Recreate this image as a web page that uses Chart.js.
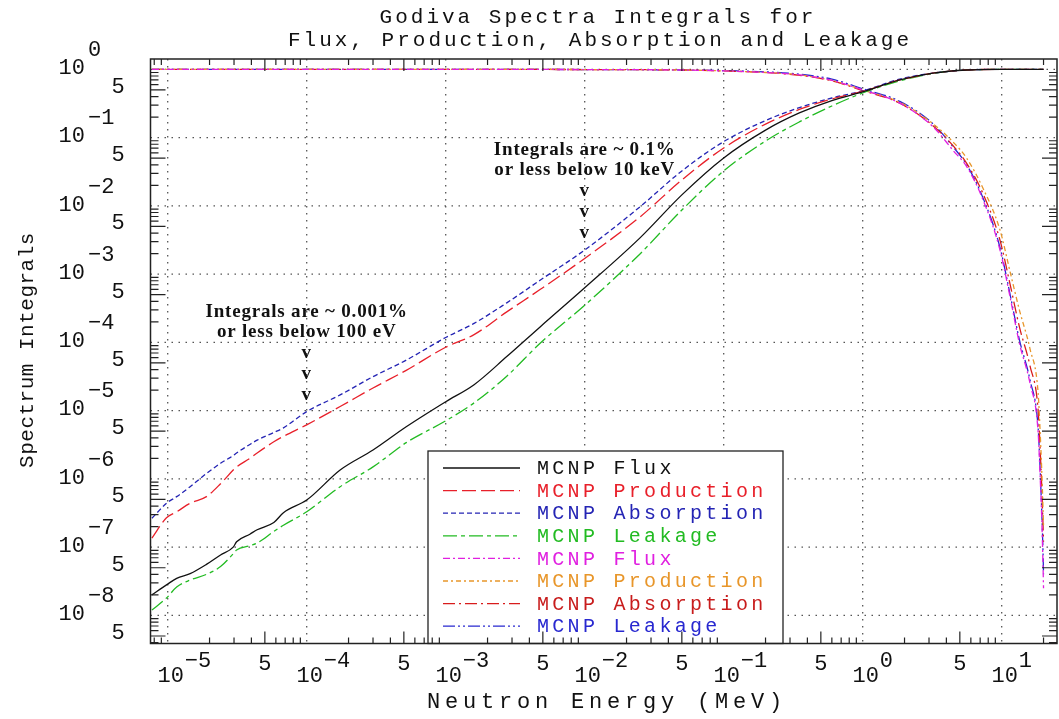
<!DOCTYPE html>
<html>
<head>
<meta charset="utf-8">
<script src="https://cdn.jsdelivr.net/npm/chart.js@4.4.0/dist/chart.umd.min.js"></script>
<style>
  html, body { margin: 0; padding: 0; background: #fff; }
  #wrap { width: 1059px; height: 719px; position: relative; }
</style>
</head>
<body>
<div id="wrap"><canvas id="mychart"></canvas></div>
<script>
// energies (MeV) for the "integral below E" curves
var lowE = [7.7e-6, 9.8e-6, 1.16e-5, 1.45e-5, 1.9e-5, 2.4e-5, 2.96e-5, 3.13e-5, 3.9e-5, 4.4e-5, 5.8e-5, 6.8e-5,
  1e-4, 1.74e-4, 3e-4, 5.2e-4, 1e-3, 1.6e-3, 2.75e-3, 4.8e-3, 1e-2, 2.5e-2, 5e-2,
  0.1, 0.2, 0.35, 0.6, 1, 1.85, 3.2, 5.6, 10, 20];
var fluxBelow = [2.0e-8, 2.8e-8, 3.5e-8, 4.1e-8, 5.6e-8, 7.7e-8, 1.0e-7, 1.2e-7, 1.55e-7, 1.8e-7, 2.3e-7, 3.2e-7,
  4.9e-7, 1.35e-6, 2.65e-6, 5.8e-6, 1.35e-5, 2.4e-5, 6.2e-5, 1.7e-4, 6.3e-4, 3.4e-3, 0.0145,
  0.0504, 0.129, 0.23, 0.35, 0.467, 0.70, 0.88, 0.98, 1, 1];
var prodBelow = [1.36e-7, 2.7e-7, 3.3e-7, 4.4e-7, 5.5e-7, 8.5e-7, 1.35e-6, 1.5e-6, 2.0e-6, 2.4e-6, 3.5e-6, 4.2e-6,
  6.2e-6, 1.15e-5, 2.15e-5, 3.9e-5, 8.5e-5, 1.3e-4, 2.8e-4, 6.0e-4, 1.7e-3, 6.9e-3, 0.024,
  0.0706, 0.158, 0.259, 0.368, 0.475, 0.70, 0.88, 0.98, 1, 1];
var absBelow = [2.65e-7, 4.4e-7, 5.5e-7, 7.7e-7, 1.2e-6, 1.7e-6, 2.2e-6, 2.4e-6, 3.2e-6, 3.7e-6, 4.8e-6, 5.6e-6,
  9.7e-6, 1.7e-5, 3.15e-5, 5.5e-5, 1.18e-4, 1.9e-4, 3.8e-4, 8.2e-4, 2.26e-3, 9.7e-3, 0.0325,
  0.0875, 0.178, 0.275, 0.381, 0.483, 0.72, 0.88, 0.98, 1, 1];
var leakBelow = [1.2e-8, 1.8e-8, 2.6e-8, 3.3e-8, 4.0e-8, 5.2e-8, 8.0e-8, 9.1e-8, 1.05e-7, 1.15e-7, 1.7e-7, 2.1e-7,
  3.3e-7, 7.7e-7, 1.5e-6, 3.4e-6, 7.1e-6, 1.3e-5, 3.2e-5, 9.8e-5, 3.5e-4, 1.98e-3, 8.7e-3,
  0.0325, 0.0893, 0.17, 0.291, 0.451, 0.68, 0.87, 0.98, 1, 1];

// energies (MeV) for the "integral above E" curves
var highE = [7.7e-6, 1e-3, 0.01, 0.05, 0.1, 0.2, 0.35, 0.6, 1.0, 1.85, 3.2, 4.5, 5.6, 7.35, 9.7, 11.6, 13.4, 16, 18.3, 18.9, 19.4, 19.85, 20];
var fluxAbove = [1, 1, 0.995, 0.98, 0.95, 0.9, 0.83, 0.69, 0.5, 0.32, 0.145, 0.064, 0.0376, 0.0122, 0.0023, 4.2e-4, 9.8e-5, 2.5e-5, 4.7e-6, 1.1e-6, 2.8e-7, 5e-8, 2.5e-8];
var prodAbove = [1, 1, 0.995, 0.98, 0.95, 0.9, 0.83, 0.69, 0.5, 0.33, 0.16, 0.085, 0.05, 0.018, 0.0045, 1.0e-3, 3.0e-4, 8e-5, 1.8e-5, 5e-6, 1.4e-6, 3.5e-7, 2e-7];
var absAbove = [1, 1, 0.995, 0.98, 0.95, 0.9, 0.82, 0.68, 0.49, 0.32, 0.15, 0.075, 0.042, 0.015, 0.0032, 6.5e-4, 1.7e-4, 4.5e-5, 1e-5, 2.8e-6, 8e-7, 2e-7, 1.2e-7];
var leakAbove = [1, 1, 0.995, 0.98, 0.96, 0.92, 0.85, 0.72, 0.52, 0.34, 0.16, 0.072, 0.04, 0.013, 0.0025, 4.6e-4, 1.1e-4, 2.8e-5, 5.5e-6, 1.4e-6, 3.5e-7, 8e-8, 4e-8];

var seriesNames = ['MCNP Flux', 'MCNP Production', 'MCNP Absorption', 'MCNP Leakage',
  'MCNP Flux', 'MCNP Production', 'MCNP Absorption', 'MCNP Leakage'];

// tick labels: decades get 10^n, the "5" labels sit at 5*10^n
var xDecades = [-5, -4, -3, -2, -1, 0, 1];
var xFives = [-5, -4, -3, -2, -1, 0];
var yDecades = [0, -1, -2, -3, -4, -5, -6, -7, -8];
var yFives = [-1, -2, -3, -4, -5, -6, -7, -8, -9];

var titleLines = ['Godiva Spectra Integrals for', 'Flux, Production, Absorption and Leakage'];
var notes = [
  { e: 1e-4, lines: ['Integrals are ~ 0.001%', 'or less below 100 eV'] },
  { e: 1e-2, lines: ['Integrals are ~ 0.1%', 'or less below 10 keV'] }
];

function pts(xs, ys) {
  return xs.map(function (x, i) { return { x: x, y: ys[i] }; });
}

var styles = [
  { c: '#111111', t: '#111111', d: [] },
  { c: '#e8202a', t: '#e8202a', d: [14, 5] },
  { c: '#2424b4', t: '#2424b4', d: [5, 3] },
  { c: '#22bb22', t: '#22bb22', d: [14, 4, 4, 4] },
  { c: '#e020e0', t: '#e020e0', d: [7, 3, 2, 3] },
  { c: '#e8962a', t: '#e8962a', d: [5, 3, 2, 3] },
  { c: '#d81c1c', t: '#c81c1c', d: [12, 4, 2, 4] },
  { c: '#2828d0', t: '#2828d0', d: [12, 3, 2, 3, 2, 3] }
];
var allValues = [fluxBelow, prodBelow, absBelow, leakBelow, fluxAbove, prodAbove, absAbove, leakAbove];

var datasets = allValues.map(function (vals, i) {
  return {
    label: seriesNames[i],
    data: pts(i < 4 ? lowE : highE, vals),
    borderColor: styles[i].c,
    borderDash: styles[i].d,
    borderWidth: 1.3,
    pointRadius: 0,
    fill: false,
    cubicInterpolationMode: 'monotone',
    textColor: styles[i].t
  };
});

function sup(n) {
  return n < 0 ? '\u2212' + Math.abs(n) : String(n);
}

var decor = {
  id: 'decor',
  beforeDatasetsDraw: function (chart) {
    var ctx = chart.ctx, a = chart.chartArea, x = chart.scales.x, y = chart.scales.y;
    ctx.save();
    ctx.strokeStyle = '#555';
    ctx.lineWidth = 1.3;
    ctx.setLineDash([1.5, 5.5]);
    xDecades.forEach(function (d) {
      var px = x.getPixelForValue(Math.pow(10, d));
      ctx.beginPath(); ctx.moveTo(px, a.top); ctx.lineTo(px, a.bottom); ctx.stroke();
    });
    yDecades.forEach(function (d) {
      var py = y.getPixelForValue(Math.pow(10, d));
      ctx.beginPath(); ctx.moveTo(a.left, py); ctx.lineTo(a.right, py); ctx.stroke();
    });
    ctx.restore();
  },
  afterDatasetsDraw: function (chart) {
    var ctx = chart.ctx, a = chart.chartArea, x = chart.scales.x, y = chart.scales.y;
    ctx.save();

    // legend box
    var lx = 428, ly = 451, lw = 355, lh = a.bottom - ly;
    ctx.fillStyle = '#fff';
    ctx.fillRect(lx, ly, lw, lh);
    ctx.strokeStyle = '#222';
    ctx.lineWidth = 1.3;
    ctx.strokeRect(lx, ly, lw, lh);
    ctx.font = '20px "Liberation Mono"';
    ctx.letterSpacing = '3.3px';
    ctx.textBaseline = 'middle';
    ctx.textAlign = 'left';
    chart.data.datasets.forEach(function (ds, i) {
      var ry = 468 + i * 22.6;
      ctx.strokeStyle = ds.borderColor;
      ctx.lineWidth = 1.3;
      ctx.setLineDash(ds.borderDash);
      ctx.beginPath(); ctx.moveTo(443, ry); ctx.lineTo(520, ry); ctx.stroke();
      ctx.setLineDash([]);
      ctx.fillStyle = ds.textColor;
      ctx.fillText(ds.label, 537, ry + 1);
    });
    ctx.letterSpacing = '0px';

    // frame
    ctx.strokeStyle = '#222';
    ctx.lineWidth = 1.5;
    ctx.strokeRect(a.left, a.top, a.right - a.left, a.bottom - a.top);

    // inner minor ticks
    ctx.lineWidth = 1.2;
    for (var n = -9; n <= 1; n++) {
      for (var m = 2; m <= 9; m++) {
        var v = m * Math.pow(10, n);
        var big = m === 5;
        if (v > x.min && v < x.max) {
          var px = x.getPixelForValue(v), tl = big ? 12 : 6;
          ctx.beginPath();
          ctx.moveTo(px, a.bottom); ctx.lineTo(px, a.bottom - tl);
          ctx.moveTo(px, a.top); ctx.lineTo(px, a.top + tl);
          ctx.stroke();
        }
        if (v > y.min && v < y.max) {
          var py = y.getPixelForValue(v), tw = big ? 15 : 8;
          ctx.beginPath();
          ctx.moveTo(a.left, py); ctx.lineTo(a.left + tw, py);
          ctx.moveTo(a.right, py); ctx.lineTo(a.right - tw, py);
          ctx.stroke();
        }
      }
    }

    // tick labels
    ctx.fillStyle = '#111';
    ctx.font = '22px "Liberation Mono"';
    ctx.textBaseline = 'middle';
    yDecades.forEach(function (d) {
      var py = y.getPixelForValue(Math.pow(10, d));
      ctx.textAlign = 'right';
      ctx.fillText('10', 85, py - 1);
      ctx.textAlign = 'left';
      ctx.fillText(sup(d), 88, py - 19);
    });
    ctx.textAlign = 'center';
    yFives.forEach(function (d) {
      ctx.fillText('5', 118, y.getPixelForValue(5 * Math.pow(10, d)) - 3);
    });
    xDecades.forEach(function (d) {
      var px = x.getPixelForValue(Math.pow(10, d));
      ctx.textAlign = 'center';
      ctx.fillText('10', px + 3, 676);
      ctx.textAlign = 'left';
      ctx.fillText(sup(d), px + 17, 661);
    });
    ctx.textAlign = 'center';
    xFives.forEach(function (d) {
      ctx.fillText('5', x.getPixelForValue(5 * Math.pow(10, d)), 664);
    });

    // axis titles
    ctx.font = '22px "Liberation Mono"';
    ctx.letterSpacing = '4.8px';
    ctx.fillText('Neutron Energy (MeV)', 607, 702);
    ctx.save();
    ctx.translate(27, 350);
    ctx.rotate(-Math.PI / 2);
    ctx.font = '21px "Liberation Mono"';
    ctx.letterSpacing = '0.5px';
    ctx.fillText('Spectrum Integrals', 0, 0);
    ctx.restore();

    // title
    ctx.font = '21px "Liberation Mono"';
    ctx.letterSpacing = '3px';
    ctx.fillText(titleLines[0], 598, 17);
    ctx.fillText(titleLines[1], 600, 40);
    ctx.letterSpacing = '0px';

    // annotations
    ctx.font = 'bold 19px "Liberation Serif"';
    ctx.letterSpacing = '0.8px';
    notes.forEach(function (nt, k) {
      var px = x.getPixelForValue(nt.e);
      var top = k === 0 ? 312 : 150;
      ctx.fillText(nt.lines[0], px, top);
      ctx.fillText(nt.lines[1], px, top + 20);
      ctx.fillText('v', px, top + 41);
      ctx.fillText('v', px, top + 62);
      ctx.fillText('v', px, top + 83);
    });
    ctx.restore();
  }
};

var ctx = document.getElementById('mychart');
var myChart = new Chart(ctx, {
  type: 'line',
  data: { datasets: datasets },
  options: {
    responsive: true,
    maintainAspectRatio: false,
    animation: false,
    layout: { padding: { left: 150.5, right: 2, top: 59, bottom: 75.5 } },
    plugins: { legend: { display: false }, title: { display: false }, tooltip: { enabled: false } },
    scales: {
      x: { type: 'logarithmic', min: 7.52e-6, max: 25.0, display: false },
      y: { type: 'logarithmic', min: 3.88e-9, max: 1.42, display: false }
    }
  },
  plugins: [decor]
});
</script>
</body>
</html>
